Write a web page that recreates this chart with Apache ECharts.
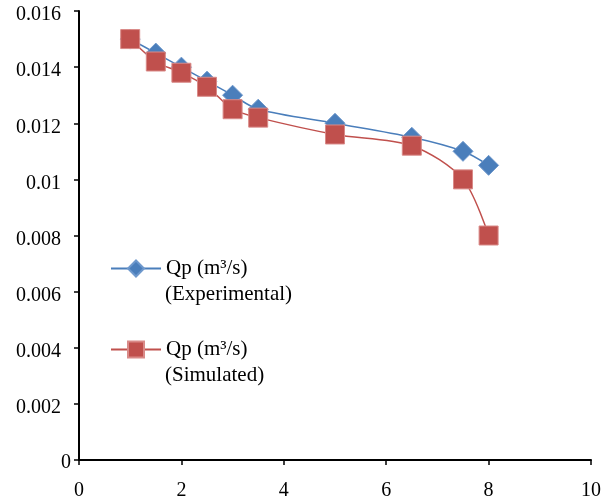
<!DOCTYPE html>
<html><head><meta charset="utf-8">
<script src="https://cdn.jsdelivr.net/npm/echarts@6/dist/echarts.min.js"></script>
<style>html,body{margin:0;padding:0;background:#fff}#c{width:607px;height:504px}</style>
</head><body><div id="c"></div>
<script>
var xValues = [1, 1.5, 2, 2.5, 3, 3.5, 5, 6.5, 7.5, 8];
var experimental = [0.015, 0.0145, 0.014, 0.0135, 0.013, 0.0125, 0.012, 0.0115, 0.011, 0.0105];
var simulated = [0.015, 0.0142, 0.0138, 0.0133, 0.0125, 0.0122, 0.0116, 0.0112, 0.010, 0.008];
var seriesNames = ['Qp (m³/s) (Experimental)', 'Qp (m³/s) (Simulated)'];
var legendLine1 = 'Qp (m³/s)';
var legendLine2 = ['(Experimental)', '(Simulated)'];

var font = '"Liberation Serif", "DejaVu Serif", serif';
function pairs(ys){ return xValues.map(function(x,i){ return [x, ys[i]]; }); }

var chart = echarts.init(document.getElementById('c'));
chart.setOption({
  animation: false,
  backgroundColor: '#fff',
  textStyle: {fontFamily: font},
  grid: {left: 79, right: 16, top: 11, bottom: 44, containLabel: false},
  xAxis: {
    type: 'value', min: 0, max: 10, interval: 2,
    axisLine: {show: true, lineStyle: {color: '#000', width: 2}},
    axisTick: {show: true, inside: false, length: 5, lineStyle: {color: '#000', width: 1.5}},
    axisLabel: {color: '#000', fontSize: 20, fontFamily: font, margin: 21},
    splitLine: {show: false}
  },
  yAxis: {
    type: 'value', min: 0, max: 0.016, interval: 0.002,
    axisLine: {show: true, lineStyle: {color: '#000', width: 2}},
    axisTick: {show: true, inside: false, length: 5, lineStyle: {color: '#000', width: 1.5}},
    axisLabel: {color: '#000', fontSize: 20, fontFamily: font, margin: 6,
      formatter: function(v){
        var s = String(parseFloat(v.toFixed(4)));
        return v === 0 ? '{z|' + s + '}' : '{n|' + s + '}';
      },
      rich: {
        n: {fontSize: 20, fontFamily: font, color: '#000', padding: [8, 12, 0, 0]},
        z: {fontSize: 20, fontFamily: font, color: '#000', padding: [6, 2, 0, 0]}
      }
    },
    splitLine: {show: false}
  },
  legend: {
    orient: 'vertical', left: 110, top: 258, padding: 0,
    itemWidth: 50, itemHeight: 20, itemGap: 60,
    textStyle: {color: '#000', fontSize: 21, fontFamily: font},
    formatter: function(){ return legendLine1; },
    data: seriesNames
  },
  graphic: [
    {type: 'text', left: 165, top: 284, style: {text: legendLine2[0], fill: '#000', font: '21px ' + font}},
    {type: 'text', left: 165, top: 365, style: {text: legendLine2[1], fill: '#000', font: '21px ' + font}}
  ],
  series: [
    {
      name: seriesNames[0], type: 'line', smooth: 0.3,
      data: pairs(experimental),
      symbol: 'diamond', symbolSize: 20,
      lineStyle: {color: '#4A7EBB', width: 1.5},
      itemStyle: {color: '#4A7EBB', borderColor: '#6E98CC', borderWidth: 1}
    },
    {
      name: seriesNames[1], type: 'line', smooth: 0.3,
      data: pairs(simulated),
      symbol: 'rect', symbolSize: 19,
      lineStyle: {color: '#C0504D', width: 1.5},
      itemStyle: {color: '#C0504D', borderColor: '#D98A88', borderWidth: 1}
    }
  ]
});
</script></body></html>
